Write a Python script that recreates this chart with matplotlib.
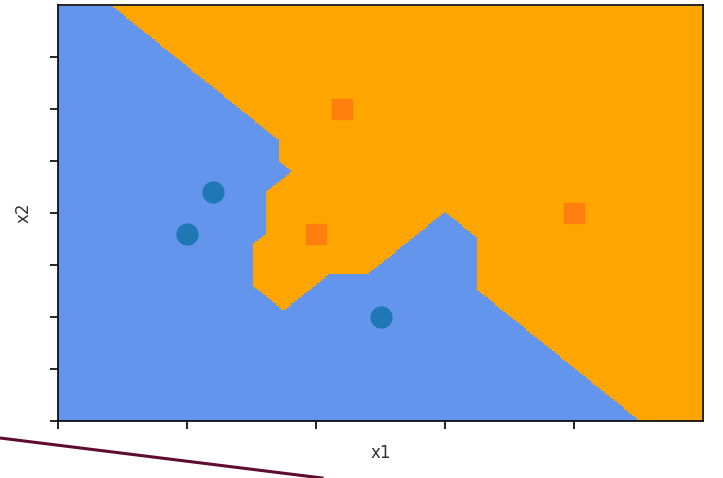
import numpy as np
import matplotlib
matplotlib.use("Agg")
import matplotlib.pyplot as plt
from matplotlib.colors import ListedColormap
from matplotlib.lines import Line2D

# training points: class 0 (blue circles), class 1 (orange squares)
x1_blue = [1.0, 1.2, 2.5]
x2_blue = [1.8, 2.2, 1.0]
x1_orange = [2.0, 2.2, 4.0]
x2_orange = [1.8, 3.0, 2.0]

X = np.array(list(zip(x1_blue + x1_orange, x2_blue + x2_orange)))
y = np.array([0] * len(x1_blue) + [1] * len(x1_orange))

# 1-nearest neighbour, chebyshev metric, evaluated on a mesh
h = 0.02
x_min, x_max = X[:, 0].min() - 1, X[:, 0].max() + 1
y_min, y_max = X[:, 1].min() - 1, X[:, 1].max() + 1
xx, yy = np.meshgrid(np.arange(x_min, x_max, h), np.arange(y_min, y_max, h))
grid = np.c_[xx.ravel(), yy.ravel()]
d = np.max(np.abs(grid[:, None, :] - X[None, :, :]), axis=2)
Z = y[np.argmin(d + 1e-9 * np.arange(len(X)), axis=1)].reshape(xx.shape)

fig = plt.figure(figsize=(7.23, 4.78), dpi=100)
ax = fig.add_axes([58 / 723, 57 / 478, 645 / 723, 416 / 478])
ax.pcolormesh(xx, yy, Z, cmap=ListedColormap(['cornflowerblue', 'orange']), shading='nearest')
ax.scatter(x1_blue, x2_blue, s=225, marker='o', color='#1f77b4', zorder=3)
ax.scatter(x1_orange, x2_orange, s=225, marker='s', color='#ff7f0e', zorder=3)

ax.set_xlim(x_min, x_max)
ax.set_ylim(y_min, y_max)
ax.set_xticks(np.arange(0, 5, 1))
ax.set_yticks(np.arange(0, 4, 0.5))
ax.set_xticklabels([])
ax.set_yticklabels([])
ax.tick_params(length=6, width=1.2)
for s in ax.spines.values():
    s.set_linewidth(1.2)
ax.set_xlabel('x1', fontsize=12, color='#333333', labelpad=7)
ax.set_ylabel('x2', fontsize=12, color='#333333', labelpad=9)

# stray annotation line under the plot
fig.add_artist(Line2D([0, 322 / 723], [1 - 438 / 478, 0], transform=fig.transFigure,
                      color='#5e0b30', linewidth=2.2))

fig.savefig('out.png', dpi=100)
